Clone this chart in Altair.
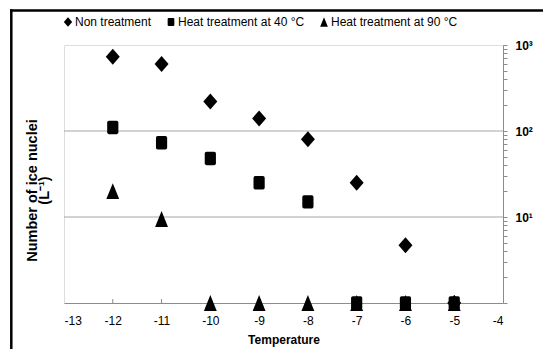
import altair as alt
import pandas as pd

# ---------------- data ----------------
temps = [-12, -11, -10, -9, -8, -7, -6, -5]
non_treatment = [730, 600, 220, 140, 80, 25, 4.7, 0]
heat_40 = [110, 73, 48, 25, 15, 0, 0, 0]
heat_90 = [20, 9.5, 0, 0, 0, 0, 0, 0]
series_names = ["Non treatment", "Heat treatment at 40 °C", "Heat treatment at 90 °C"]

x_ticks = [-13, -12, -11, -10, -9, -8, -7, -6, -5, -4]
x_inner_ticks = [-12, -11, -10, -9, -8, -7, -6, -5]
y_grid = [10, 100]
y_tick_values = [1, 2, 3, 4, 5, 6, 7, 8, 9,
                 10, 20, 30, 40, 50, 60, 70, 80, 90,
                 100, 200, 300, 400, 500, 600, 700, 800, 900, 1000]

# ---------------- layout constants ----------------
W, H = 439, 258
GRAY = "#8c8c8c"
FONT = "Liberation Sans"

rows = []
for name, vals in zip(series_names, [non_treatment, heat_40, heat_90]):
    for t, v in zip(temps, vals):
        rows.append({"Temperature": t, "Count": v, "Series": name})
df = pd.DataFrame(rows)

diamond = "M0,-1.14L1,0L0,1.14L-1,0Z"
square = ("M-0.55,-0.96L0.55,-0.96Q0.8,-0.96 0.8,-0.7L0.8,0.7Q0.8,0.96 0.55,0.96"
          "L-0.55,0.96Q-0.8,0.96 -0.8,0.7L-0.8,-0.7Q-0.8,-0.96 -0.55,-0.96Z")
triangle = "M0,-1.14L0.92,1.14L-0.92,1.14Z"

x_scale = alt.Scale(domain=[-13, -4], nice=False)
y_scale = alt.Scale(type="log", domain=[1, 1000], nice=False)

label_expr = ("datum.value == 1000 ? '10³' : datum.value == 100 ? '10²' : "
              "datum.value == 10 ? '10¹' : ''")

x_axis = alt.Axis(values=x_ticks, ticks=False, grid=False, domainColor=GRAY,
                  labelExpr="datum.value + ''",
                  labelFontSize=12, labelColor="black", labelPadding=12,
                  labelFont=FONT, title="Temperature", titleFontWeight="bold",
                  titleFontSize=12, titleFont=FONT, titleColor="black",
                  titlePadding=8)
y_axis = alt.Axis(orient="right", values=y_tick_values, labelExpr=label_expr,
                  tickSize=4, tickColor=GRAY, domainColor=GRAY, grid=False,
                  labelFontSize=12, labelFontWeight="bold", labelColor="black",
                  labelFont=FONT, labelPadding=8, labelOverlap=False,
                  labelBound=False,
                  title=["Number of ice nuclei", "(L⁻¹)"],
                  titleAngle=270, titleX=-W - 39, titleY=145,
                  titleAlign="center", titleBaseline="top",
                  titleFontWeight="bold", titleFontSize=14.5, titleFont=FONT,
                  titleColor="black", titleLineHeight=12.5)

grid = alt.Chart(pd.DataFrame({"g": y_grid})).mark_rule(
    color="#a6a6a6", strokeWidth=1
).encode(
    y=alt.Y("g:Q", scale=y_scale, axis=y_axis),
    x=alt.value(0), x2=alt.value(W),
)

xticks = alt.Chart(pd.DataFrame({"t": x_inner_ticks})).mark_rule(
    color=GRAY, strokeWidth=1
).encode(
    x=alt.X("t:Q", scale=x_scale, axis=x_axis),
    y=alt.value(H - 4), y2=alt.value(H),
)

points = alt.Chart(df).transform_calculate(
    plotted="max(datum.Count, 1)"
).mark_point(filled=True, opacity=1, color="black", size=196, strokeWidth=0).encode(
    x=alt.X("Temperature:Q", scale=x_scale, axis=x_axis),
    y=alt.Y("plotted:Q", scale=y_scale, axis=y_axis),
    shape=alt.Shape("Series:N",
                    scale=alt.Scale(domain=series_names, range=[diamond, square, triangle]),
                    legend=alt.Legend(title=None, orient="none", legendX=-2, legendY=-29,
                                      direction="horizontal", symbolSize=70,
                                      symbolFillColor="black", symbolStrokeColor="black",
                                      symbolStrokeWidth=0, labelFontSize=12,
                                      labelFont=FONT, labelColor="black", labelOffset=1,
                                      columnPadding=13, labelLimit=300)),
)

frame_df = pd.DataFrame({"a": [0]})
frame_top = alt.Chart(frame_df).mark_rule(color="black", strokeWidth=2.5).encode(
    x=alt.value(-54), x2=alt.value(W + 80), y=alt.value(-34.5)
)
frame_left = alt.Chart(frame_df).mark_rule(color="black", strokeWidth=2.5).encode(
    x=alt.value(-52.7), y=alt.value(-35.7), y2=alt.value(H + 80)
)

chart = alt.layer(frame_top, frame_left, grid, xticks, points).properties(
    width=W, height=H,
    autosize=alt.AutoSizeParams(type="none"),
    padding={"left": 56, "top": 37, "right": 40, "bottom": 46},
).configure_view(stroke=GRAY, strokeWidth=1).configure(font=FONT)

chart.save("out.html", embed_options={"renderer": "svg", "actions": False})
